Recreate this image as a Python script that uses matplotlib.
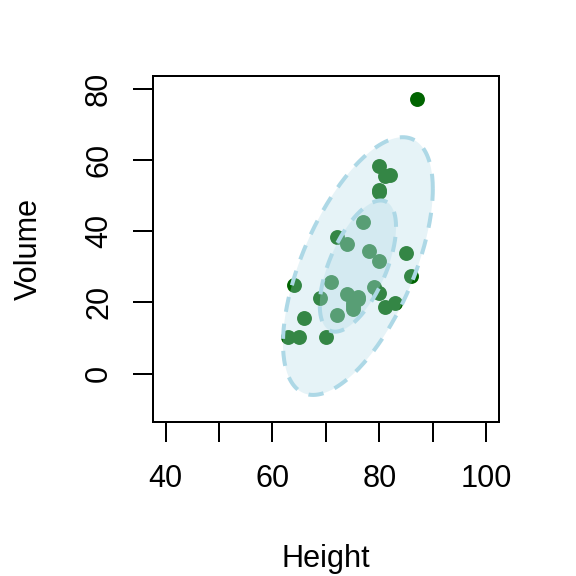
import numpy as np
import matplotlib
matplotlib.use("Agg")
import matplotlib.pyplot as plt
from matplotlib.patches import Polygon

plt.rcParams['font.family'] = ['Liberation Sans', 'DejaVu Sans']

# trees data: Height vs Volume
height = [70, 65, 63, 72, 81, 83, 66, 75, 80, 75, 79, 76, 76, 69, 75, 74,
          85, 86, 71, 64, 78, 80, 74, 72, 77, 81, 82, 80, 80, 80, 87]
volume = [10.3, 10.3, 10.2, 16.4, 18.8, 19.7, 15.6, 18.2, 22.6, 19.9, 24.2,
          21.0, 21.4, 21.3, 19.1, 22.2, 33.8, 27.4, 25.7, 24.9, 34.5, 31.7,
          36.3, 38.3, 42.6, 55.4, 55.7, 58.3, 51.5, 51.0, 77.0]
ellipse_radii = [2.2, 1.12]  # outer, inner (in sd units)

x_ticks = [40, 50, 60, 70, 80, 90, 100]
x_labels = ['40', '', '60', '', '80', '', '100']
y_ticks = [0, 20, 40, 60, 80]

fig = plt.figure(figsize=(6, 6), dpi=96)
ax = fig.add_axes([0.2651, 0.2679, 0.6012, 0.6007])

ax.scatter(height, volume, s=125, color='darkgreen', linewidths=0, zorder=2)

# data ellipses from mean and covariance
xy = np.column_stack([height, volume])
center = xy.mean(axis=0)
cov = np.cov(xy, rowvar=False)
chol = np.linalg.cholesky(cov)
t = np.linspace(0, 2 * np.pi, 300)
circle = np.column_stack([np.cos(t), np.sin(t)])
for r in ellipse_radii:
    pts = center + r * circle @ chol.T
    ax.add_patch(Polygon(pts, closed=True, facecolor='lightblue', alpha=0.3,
                         edgecolor='none', zorder=3))
    ax.plot(pts[:, 0], pts[:, 1], color='lightblue', lw=3,
            linestyle=(0, (3.8, 3.0)), zorder=4)

ax.set_xlim(37.6, 102.4)
ax.set_ylim(-13.5, 83.6)
ax.set_xticks(x_ticks)
ax.set_xticklabels(x_labels)
ax.set_yticks(y_ticks)
ax.set_yticklabels([str(v) for v in y_ticks], rotation=90, va='center')

for s in ax.spines.values():
    s.set_linewidth(1.5)
ax.tick_params(axis='both', length=15, width=1.5, labelsize=23)
ax.tick_params(axis='x', pad=17)
ax.tick_params(axis='y', pad=14)

ax.set_xlabel('Height', fontsize=23, labelpad=37)
ax.set_ylabel('Volume', fontsize=23, labelpad=30)

fig.savefig('out.png', dpi=96)
